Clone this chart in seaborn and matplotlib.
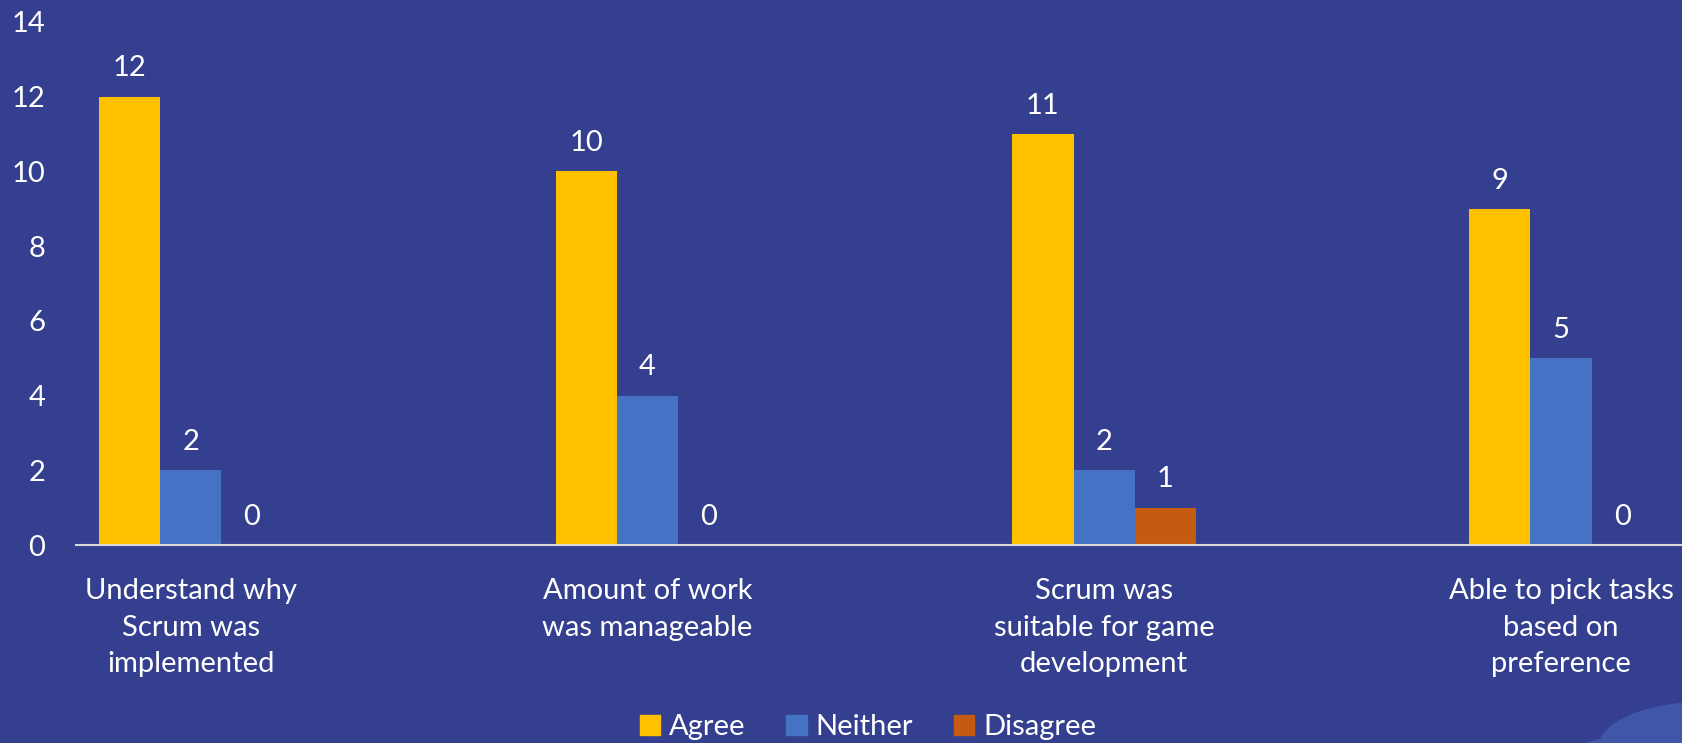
import matplotlib
matplotlib.use("Agg")
import matplotlib.pyplot as plt
import seaborn as sns
import pandas as pd
from matplotlib.patches import Circle

categories = [
    "Understand why\nScrum was\nimplemented",
    "Amount of work\nwas manageable",
    "Scrum was\nsuitable for game\ndevelopment",
    "Able to pick tasks\nbased on\npreference",
]
series = ["Agree", "Neither", "Disagree"]
agree = [12, 10, 11, 9]
neither = [2, 4, 2, 5]
disagree = [0, 0, 1, 0]
y_ticks = [0, 2, 4, 6, 8, 10, 12, 14]

bg = "#343F8F"
colors = ["#FFC000", "#4472C4", "#C55A11"]

df = pd.DataFrame({
    "category": categories * 3,
    "response": [s for s in series for _ in categories],
    "count": agree + neither + disagree,
})

sns.set_theme(style="white")
plt.rcParams["font.family"] = ["Lato", "DejaVu Sans"]

fig = plt.figure(figsize=(16.82, 7.43), dpi=100, facecolor=bg)
ax = fig.add_axes([76 / 1682, 1 - 545 / 743, 1 - 76 / 1682, (545 - 22) / 743])
ax.set_facecolor(bg)

sns.barplot(data=df, x="category", y="count", hue="response",
            order=categories, hue_order=series, palette=colors,
            width=0.402, dodge=True, saturation=1, ax=ax,
            edgecolor="none", linewidth=0)

for cont in ax.containers:
    ax.bar_label(cont, fmt="%d", padding=11, color="white", fontsize=21)

ax.set_ylim(0, 14)
ax.set_xlim(-0.251, 3.265)
ax.set_yticks(y_ticks)
ax.set_xlabel("")
ax.set_ylabel("")
ax.tick_params(axis="y", length=0, pad=22, labelsize=21, labelcolor="white")
ax.tick_params(axis="x", length=0, pad=24, labelsize=21, labelcolor="white")
for lbl in ax.get_xticklabels():
    lbl.set_horizontalalignment("center")
    lbl.set_multialignment("center")
    lbl.set_linespacing(1.5)

for side in ["top", "right", "left"]:
    ax.spines[side].set_visible(False)
ax.spines["bottom"].set_color("#D9D9D9")
ax.spines["bottom"].set_linewidth(1.5)
ax.grid(False)

ax.get_legend().remove()
handles = [plt.Rectangle((0, 0), 1, 1, color=c) for c in colors]
fig.legend(handles, series, loc="center", bbox_to_anchor=(868 / 1682, 1 - 727 / 743),
           ncol=3, frameon=False, fontsize=21, labelcolor="white",
           handlelength=0.7, handleheight=0.7, handletextpad=0.3,
           columnspacing=1.4)

# decorative cloud in the lower-right corner
cloud = "#3F57A8"
for cx, cy, r in [(1702, 748, 46), (1642, 772, 38)]:
    fig.patches.append(Circle((cx / 1682, 1 - cy / 743), r / 743, transform=fig.transFigure,
                              facecolor=cloud, edgecolor="none", zorder=0))

fig.savefig("out.png", dpi=100, facecolor=bg)
